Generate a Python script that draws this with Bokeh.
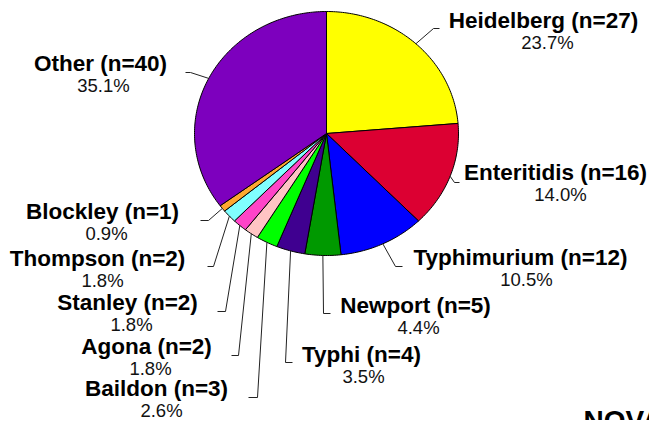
import numpy as np
from bokeh.plotting import figure
from bokeh.models import Range1d, ColumnDataSource
from bokeh.core.properties import value
from bokeh.embed import file_html
from bokeh.resources import INLINE

# ---- data ----
categories = ["Heidelberg", "Enteritidis", "Typhimurium", "Newport", "Typhi",
              "Baildon", "Agona", "Stanley", "Thompson", "Blockley", "Other"]
counts = [27, 16, 12, 5, 4, 3, 2, 2, 2, 1, 40]
footer_text = "NOVA"

# ---- styles ----
colors = ["#FFFF00", "#DC0032", "#0000FF", "#009900", "#3F0090",
          "#00FF00", "#FFC4C4", "#FF44C8", "#80FFFF", "#FFA830", "#7D00BE"]
NAME_PX, PCT_PX, FOOT_PX = 22.5, 18.5, 28.0

# ---- layout (pixel positions in the picture; y of text = baseline) ----
CX, CY, RX, RY = 326.0, 133.0, 132.0, 122.0
elbow_x = [433, 454, 395, 323, 285, 257, 238, 225, 213, 208, 190]
elbow_y = [28, 182, 266, 313, 362, 397, 355, 311, 266, 220, 72]
end_x = [439, 459, 402, 330, 292, 248, 231, 217, 207, 200, 185]
name_x = [543, 555, 520, 415, 361, 156, 146, 127, 97, 102, 100]
name_y = [28, 180, 265, 313, 362, 396, 354, 310, 266, 219, 71]
pct_x = [547, 560, 526, 418, 363, 161, 150, 131, 102, 106, 103]
PCT_DY = 21
foot_x, foot_y = 583, 430

total = float(sum(counts))
fracs = np.array(counts) / total
ends = 90.0 - np.cumsum(fracs) * 360.0
starts = np.concatenate([[90.0], ends[:-1]])
mids = (starts + ends) / 2.0

xs, ys = [], []
for s, e in zip(starts, ends):
    n = max(4, int(abs(s - e) / 1.0) + 2)
    t = np.radians(np.linspace(s, e, n))
    xs.append([CX] + list(CX + RX * np.cos(t)) + [CX])
    ys.append([CY] + list(CY - RY * np.sin(t)) + [CY])

p = figure(width=649, height=420, x_range=Range1d(0, 649), y_range=Range1d(420, 0),
           output_backend="svg", toolbar_location=None, min_border=0)
p.axis.visible = False
p.grid.visible = False
p.outline_line_color = None
p.background_fill_color = "white"

p.patches(xs=xs, ys=ys, fill_color=colors, line_color="#000000", line_width=1)

lx, ly = [], []
for i, m in enumerate(mids):
    t = np.radians(m)
    ex, ey = CX + RX * np.cos(t), CY - RY * np.sin(t)
    lx.append([ex, elbow_x[i], end_x[i]])
    ly.append([ey, elbow_y[i], elbow_y[i]])
p.multi_line(xs=lx, ys=ly, line_color="#222222", line_width=1)

names = [f"{c} (n={n})" for c, n in zip(categories, counts)]
pcts = [f"{f * 100:.1f}%" for f in fracs]

# text drawn with "middle" baseline at the cap-height centre
CAPMID = 0.358
src_n = ColumnDataSource(dict(x=name_x, y=[v - CAPMID * NAME_PX for v in name_y], t=names))
p.text(x="x", y="y", text="t", source=src_n, text_align="center",
       text_baseline="middle", text_font=value("Liberation Sans"),
       text_font_style="bold", text_font_size=value(f"{NAME_PX}px"), text_color="#000000")

src_p = ColumnDataSource(dict(x=pct_x, y=[v + PCT_DY - CAPMID * PCT_PX for v in name_y], t=pcts))
p.text(x="x", y="y", text="t", source=src_p, text_align="center",
       text_baseline="middle", text_font=value("Liberation Sans"),
       text_font_size=value(f"{PCT_PX}px"), text_color="#111111")

p.text(x=[foot_x], y=[foot_y - CAPMID * FOOT_PX], text=[footer_text], text_align="left",
       text_baseline="middle", text_font=value("Liberation Sans"),
       text_font_style="bold", text_font_size=value(f"{FOOT_PX}px"), text_color="#000000")

open("out.html", "w").write(file_html(p, INLINE))
